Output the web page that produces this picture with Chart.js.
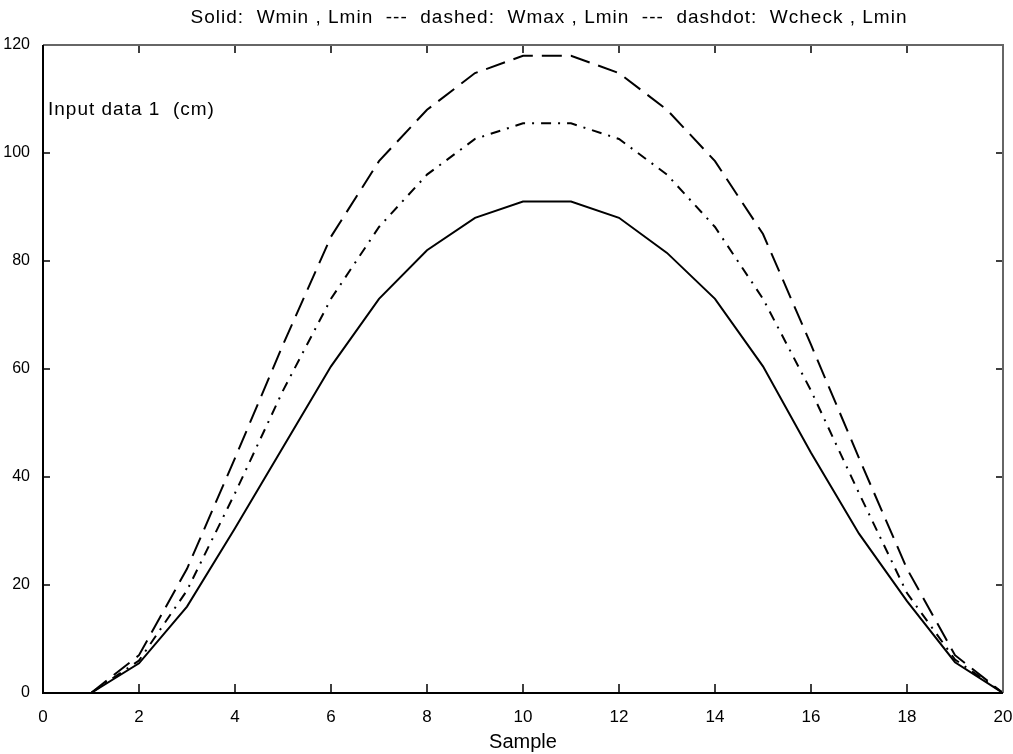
<!DOCTYPE html>
<html>
<head>
<meta charset="utf-8">
<script src="https://cdn.jsdelivr.net/npm/chart.js@4.4.1/dist/chart.umd.min.js"></script>
<style>
  html, body { margin: 0; padding: 0; background: #fff; }
  #wrap { width: 1013px; height: 754px; }
</style>
</head>
<body>
<div id="wrap"><canvas id="chart"></canvas></div>
<script>
// values (sample index -> cm)
const samples = [1, 2, 3, 4, 5, 6, 7, 8, 9, 10, 11, 12, 13, 14, 15, 16, 17, 18, 19, 20];
const wminLmin = [0, 5.5, 16, 30.5, 45.5, 60.5, 73, 82, 88, 91, 91, 88, 81.5, 73, 60.5, 44.5, 29.5, 17, 5.7, 0];
const wmaxLmin = [0, 7, 23, 43.5, 64.5, 84.5, 98.5, 108, 114.8, 118, 118, 114.8, 108, 98.5, 85, 64.5, 43.5, 23, 7, 0];
const wcheckLmin = [0, 6, 19, 37, 56, 73, 86.3, 96, 102.6, 105.5, 105.5, 102.6, 96, 86.3, 73, 56, 37, 18.5, 6.2, 0];

const xTicks = [0, 2, 4, 6, 8, 10, 12, 14, 16, 18, 20];
const yTicks = [0, 20, 40, 60, 80, 100, 120];

const titleText = 'Solid:  Wmin , Lmin  ---  dashed:  Wmax , Lmin  ---  dashdot:  Wcheck , Lmin';
const innerLabel = 'Input data 1  (cm)';

function toPoints(arr) {
    return samples.map((s, i) => ({ x: s, y: arr[i] }));
}

// frame, inward ticks and the texts drawn inside / above the axes
const matlabAxes = {
    id: 'matlabAxes',
    afterDatasetsDraw(chart) {
        const { ctx, chartArea: a, scales } = chart;
        ctx.save();

        // inward tick marks on all four sides
        ctx.strokeStyle = '#000';
        ctx.lineWidth = 1.5;
        xTicks.forEach(v => {
            const px = scales.x.getPixelForValue(v);
            ctx.beginPath();
            ctx.moveTo(px, a.bottom); ctx.lineTo(px, a.bottom - 9);
            ctx.moveTo(px, a.top); ctx.lineTo(px, a.top + 8);
            ctx.stroke();
        });
        yTicks.forEach(v => {
            const py = scales.y.getPixelForValue(v);
            ctx.beginPath();
            ctx.moveTo(a.left, py); ctx.lineTo(a.left + 7, py);
            ctx.moveTo(a.right, py); ctx.lineTo(a.right - 7, py);
            ctx.stroke();
        });

        // box: top / right greyish, left / bottom solid black
        ctx.lineWidth = 2;
        ctx.strokeStyle = '#666';
        ctx.beginPath();
        ctx.moveTo(a.left, a.top); ctx.lineTo(a.right, a.top); ctx.lineTo(a.right, a.bottom);
        ctx.stroke();
        ctx.strokeStyle = '#000';
        ctx.beginPath();
        ctx.moveTo(a.left, a.top); ctx.lineTo(a.left, a.bottom); ctx.lineTo(a.right, a.bottom);
        ctx.stroke();

        // texts
        ctx.fillStyle = '#000';
        ctx.textBaseline = 'alphabetic';
        ctx.font = '19px "Liberation Sans", Arial, sans-serif';
        ctx.letterSpacing = '1px';
        ctx.textAlign = 'center';
        ctx.fillText(titleText, (a.left + a.right) / 2 + 26, 23);

        ctx.textAlign = 'left';
        ctx.fillText(innerLabel, a.left + 5, scales.y.getPixelForValue(107));
        ctx.restore();
    }
};

const ctx = document.getElementById('chart').getContext('2d');
new Chart(ctx, {
    type: 'line',
    data: {
        datasets: [
            {
                label: 'Wmin, Lmin',
                data: toPoints(wminLmin),
                borderColor: '#000',
                borderWidth: 2
            },
            {
                label: 'Wmax, Lmin',
                data: toPoints(wmaxLmin),
                borderColor: '#000',
                borderWidth: 2,
                borderDash: [20, 9]
            },
            {
                label: 'Wcheck, Lmin',
                data: toPoints(wcheckLmin),
                borderColor: '#000',
                borderWidth: 2,
                borderDash: [10, 7, 2, 7]
            }
        ]
    },
    options: {
        responsive: true,
        maintainAspectRatio: false,
        animation: false,
        layout: { padding: { top: 45, right: 10, left: 0, bottom: 0 } },
        elements: {
            point: { radius: 0, hoverRadius: 0 },
            line: { tension: 0, fill: false }
        },
        plugins: {
            legend: { display: false },
            tooltip: { enabled: false },
            title: { display: false }
        },
        scales: {
            x: {
                type: 'linear',
                min: 0,
                max: 20,
                afterBuildTicks: scale => { scale.ticks = xTicks.map(v => ({ value: v })); },
                afterFit: scale => {
                    scale.height = 61;
                    scale.paddingLeft = 0;
                    scale.paddingRight = 0;
                },
                grid: { display: false },
                border: { display: false },
                ticks: {
                    color: '#000',
                    padding: 6,
                    font: { family: '"Liberation Sans", Arial, sans-serif', size: 17 }
                },
                title: {
                    display: true,
                    text: 'Sample',
                    color: '#000',
                    padding: { top: 4, bottom: 0 },
                    font: { family: '"Liberation Sans", Arial, sans-serif', size: 20 }
                }
            },
            y: {
                min: 0,
                max: 120,
                afterBuildTicks: scale => { scale.ticks = yTicks.map(v => ({ value: v })); },
                afterFit: scale => { scale.width = 43; },
                grid: { display: false },
                border: { display: false },
                ticks: {
                    color: '#000',
                    padding: 5,
                    font: { family: '"Liberation Sans", Arial, sans-serif', size: 16 }
                }
            }
        }
    },
    plugins: [matlabAxes]
});
</script>
</body>
</html>
